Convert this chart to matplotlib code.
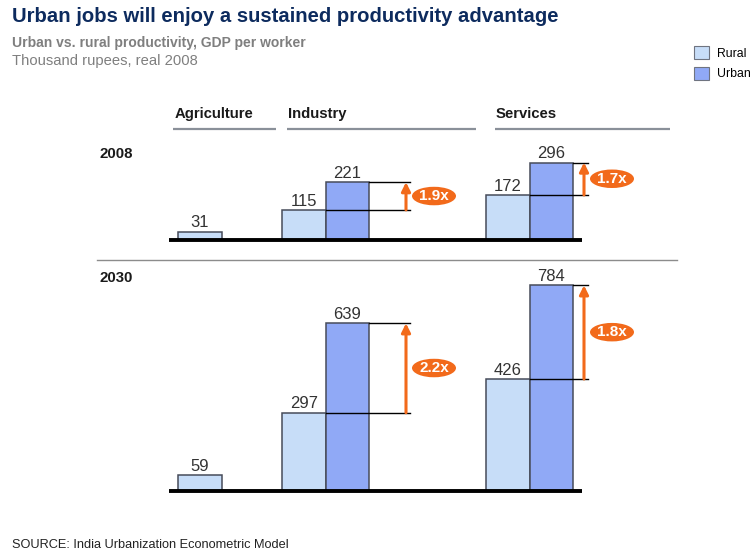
import matplotlib.pyplot as plt
from matplotlib.patches import Patch, Ellipse

plt.rcParams['font.family'] = ['Liberation Sans', 'DejaVu Sans']

# Data: GDP per worker, thousand rupees (real 2008)
sectors = ["Agriculture", "Industry", "Services"]
years = ["2008", "2030"]
rural_2008 = [31, 115, 172]
urban_2008 = [None, 221, 296]   # no urban bar for agriculture
rural_2030 = [59, 297, 426]
urban_2030 = [None, 639, 784]
multiple_2008 = [None, "1.9x", "1.7x"]
multiple_2030 = [None, "2.2x", "1.8x"]
legend_labels = ["Rural", "Urban"]

# colours
RURAL_C = "#C7DDF8"
URBAN_C = "#90A9F6"
EDGE_C = "#474c5a"
ORANGE = "#F26A1B"
NAVY = "#0d2b5e"
GREY = "#7f7f7f"

# layout (pixels of the 755x554 picture)
W, H = 755, 554
PX_PER_UNIT = 0.2617           # bar height in pixels per thousand rupees
bar_left = [178, 282, 486]     # left edge of the rural bar of each sector
bar_w = 43.5
arrow_x = [None, 406, 584]
line_end = [None, 410, 588]
label_dx = 28
panels = [(240, 135), (490.5, 268)]   # baseline / top of each year panel

fig = plt.figure(figsize=(W / 100, H / 100), dpi=100)

# overlay axes in pixel units for titles, headers and rules
deco = fig.add_axes([0, 0, 1, 1])
deco.set_xlim(0, W)
deco.set_ylim(H, 0)
deco.axis('off')

deco.text(12, 17, "Urban jobs will enjoy a sustained productivity advantage",
          fontsize=14.6, fontweight='bold', color=NAVY, va='center')
deco.text(12, 43, "Urban vs. rural productivity, GDP per worker",
          fontsize=10, fontweight='bold', color=GREY, va='center')
deco.text(12, 61, "Thousand rupees, real 2008", fontsize=10.6, color=GREY, va='center')
deco.text(12, 545, "SOURCE: India Urbanization Econometric Model", fontsize=9.2,
          color="#222222", va='center')

# sector headers with underline
header_x = [(175, 173, 276), (288, 287, 476), (496, 495, 670)]
for name, (tx, x0, x1) in zip(sectors, header_x):
    deco.text(tx, 114, name, fontsize=10.7, fontweight='bold', color="#1a1a1a", va='center')
    deco.plot([x0, x1], [128.5, 128.5], color="#8a9099", lw=1.6, solid_capstyle='butt')

# year labels and separator
deco.text(100, 154, years[0], fontsize=10.8, fontweight='bold', color="#1a1a1a", va='center')
deco.text(100, 278, years[1], fontsize=10.8, fontweight='bold', color="#1a1a1a", va='center')
deco.plot([97, 677], [260, 260], color="#8c8c8c", lw=1)

# legend
handles = [Patch(facecolor=RURAL_C, edgecolor="#6f7480", lw=0.8),
           Patch(facecolor=URBAN_C, edgecolor="#6f7480", lw=0.8)]
fig.legend(handles, legend_labels, loc='upper left', bbox_to_anchor=(694 / W, 1 - 46 / H),
           frameon=False, fontsize=8.8, handlelength=1.25, handleheight=1.25,
           labelspacing=0.6, handletextpad=0.65, borderpad=0, borderaxespad=0)

all_rural = [rural_2008, rural_2030]
all_urban = [urban_2008, urban_2030]
all_mult = [multiple_2008, multiple_2030]

for (base, top), rural, urban, mult in zip(panels, all_rural, all_urban, all_mult):
    ax = fig.add_axes([0, 1 - base / H, 1, (base - top) / H])
    ax.set_xlim(0, W)
    ax.set_ylim(0, (base - top) / PX_PER_UNIT)
    ax.axis('off')

    for i in range(len(sectors)):
        r = rural[i]
        ax.bar(bar_left[i], r, width=bar_w, align='edge', color=RURAL_C,
               edgecolor=EDGE_C, lw=1.1, zorder=2)
        ax.annotate(str(r), (bar_left[i] + bar_w / 2, r), xytext=(0, 1),
                    textcoords='offset points', ha='center', va='bottom',
                    fontsize=12, color="#333333")
        u = urban[i]
        if u is None:
            continue
        ax.bar(bar_left[i] + bar_w, u, width=bar_w, align='edge', color=URBAN_C,
               edgecolor=EDGE_C, lw=1.1, zorder=2)
        ax.annotate(str(u), (bar_left[i] + 1.5 * bar_w, u), xytext=(0, 1),
                    textcoords='offset points', ha='center', va='bottom',
                    fontsize=12, color="#333333")
        # reference lines at rural and urban level
        ax.plot([bar_left[i] + bar_w, line_end[i]], [r, r], color='black', lw=1, zorder=3)
        ax.plot([bar_left[i] + 2 * bar_w, line_end[i]], [u, u], color='black', lw=1, zorder=3)
        # orange arrow and multiple label
        ax.annotate("", xy=(arrow_x[i], u), xytext=(arrow_x[i], r),
                    arrowprops=dict(arrowstyle='-|>', color=ORANGE, lw=2.2,
                                    mutation_scale=13, shrinkA=0, shrinkB=0), zorder=4)
        mid = (r + u) / 2
        ax.add_patch(Ellipse((arrow_x[i] + label_dx, mid), 44, 18.5 / PX_PER_UNIT,
                             facecolor=ORANGE, edgecolor='none', zorder=4))
        ax.text(arrow_x[i] + label_dx, mid, mult[i], ha='center', va='center',
                fontsize=11, fontweight='bold', color='white', zorder=5)

    # baseline
    ax.plot([169, 582], [0, 0], color='black', lw=2.8, solid_capstyle='butt',
            clip_on=False, zorder=3)

fig.savefig("out.png", dpi=100)
